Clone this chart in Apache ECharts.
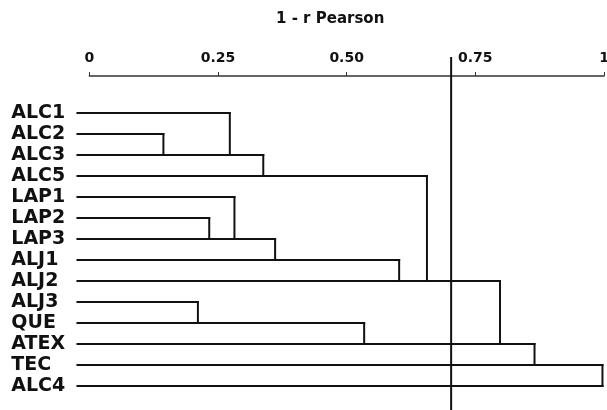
<!DOCTYPE html>
<html>
<head>
<meta charset="utf-8">
<script src="https://cdn.jsdelivr.net/npm/echarts@6/dist/echarts.min.js"></script>
<style>html,body{margin:0;padding:0;background:#fff;}#c{width:607px;height:410px;}</style>
</head>
<body>
<div id="c"></div>
<script>
// ---- data ----
const leaves = ['ALC1','ALC2','ALC3','ALC5','LAP1','LAP2','LAP3','ALJ1','ALJ2','ALJ3','QUE','ATEX','TEC','ALC4'];
// linkage: ids < leaves.length are leaves, leaves.length + k is the k-th merge
const mergeA = [1, 0, 15, 5, 4, 18, 19, 16, 9, 22, 21, 24, 25];
const mergeB = [2, 14, 3, 6, 17, 7, 8, 20, 10, 11, 23, 12, 13];
const mergeHeight = [0.144, 0.273, 0.338, 0.233, 0.282, 0.361, 0.602, 0.656, 0.211, 0.534, 0.798, 0.865, 0.997];
const leafStart = -0.023;
const cutHeight = 0.703;
const tickValues = [0, 0.25, 0.5, 0.75, 1];
const tickLabels = ['0', '0.25', '0.50', '0.75', '1'];
const axisTitle = '1 - r Pearson';

// ---- build segments ----
const n = leaves.length;
const rowOf = {}, hOf = {};
for (let i = 0; i < n; i++) { rowOf[i] = i; hOf[i] = leafStart; }
const segments = [];
for (let k = 0; k < mergeA.length; k++) {
  const a = mergeA[k], b = mergeB[k], h = mergeHeight[k];
  segments.push([hOf[a], rowOf[a], h, rowOf[a]]);
  segments.push([hOf[b], rowOf[b], h, rowOf[b]]);
  segments.push([h, rowOf[a], h, rowOf[b]]);
  rowOf[n + k] = Math.max(rowOf[a], rowOf[b]);
  hOf[n + k] = h;
}

const FONT = 'DejaVu Sans';
const chart = echarts.init(document.getElementById('c'), null, {renderer: 'canvas'});
chart.setOption({
  animation: false,
  backgroundColor: '#fff',
  title: {
    text: axisTitle, left: 276, top: 12, padding: 0,
    textStyle: {fontFamily: FONT, fontSize: 15, fontWeight: 'bold', color: '#111'}
  },
  grid: [
    {left: 89.3, right: 3, top: 57, bottom: 0, containLabel: false, outerBoundsMode: 'none'},
    {left: 89.3, right: 3, top: 102.5, height: 294, containLabel: false, outerBoundsMode: 'none'}
  ],
  xAxis: [
    {
      gridIndex: 0, type: 'value', position: 'top', offset: -19,
      min: 0, max: 1, interval: 0.25,
      splitLine: {show: false},
      axisLine: {show: true, lineStyle: {color: '#333', width: 1.5}},
      axisTick: {show: true, length: 4, lineStyle: {color: '#333', width: 1}},
      axisLabel: {
        margin: 11, fontFamily: FONT, fontSize: 14, fontWeight: 'bold', color: '#111',
        formatter: v => { const i = tickValues.findIndex(t => Math.abs(t - v) < 1e-9); return i >= 0 ? tickLabels[i] : ''; }
      }
    },
    {gridIndex: 1, type: 'value', min: 0, max: 1, show: false}
  ],
  yAxis: [
    {gridIndex: 0, type: 'value', min: 0, max: 1, inverse: true, show: false},
    {
      gridIndex: 1, type: 'category', data: leaves, inverse: true,
      axisLine: {show: false}, axisTick: {show: false}, splitLine: {show: false},
      axisLabel: {
        interval: 0, hideOverlap: false,
        align: 'left', margin: 78, fontFamily: FONT, fontSize: 19, fontWeight: 'bold', color: '#111',
        lineHeight: 19
      }
    }
  ],
  series: [
    {
      type: 'line', xAxisIndex: 0, yAxisIndex: 0,
      data: [[cutHeight, 0], [cutHeight, 1]],
      symbol: 'none', lineStyle: {color: '#111', width: 2}, silent: true
    },
    {
      type: 'custom', xAxisIndex: 1, yAxisIndex: 1, clip: false,
      data: segments,
      renderItem: function (params, api) {
        const p1 = api.coord([api.value(0), api.value(1)]);
        const p2 = api.coord([api.value(2), api.value(3)]);
        return {
          type: 'line',
          shape: {x1: p1[0], y1: p1[1], x2: p2[0], y2: p2[1]},
          style: {stroke: '#111', lineWidth: 2, lineCap: 'square'}
        };
      }
    }
  ]
});
</script>
</body>
</html>
